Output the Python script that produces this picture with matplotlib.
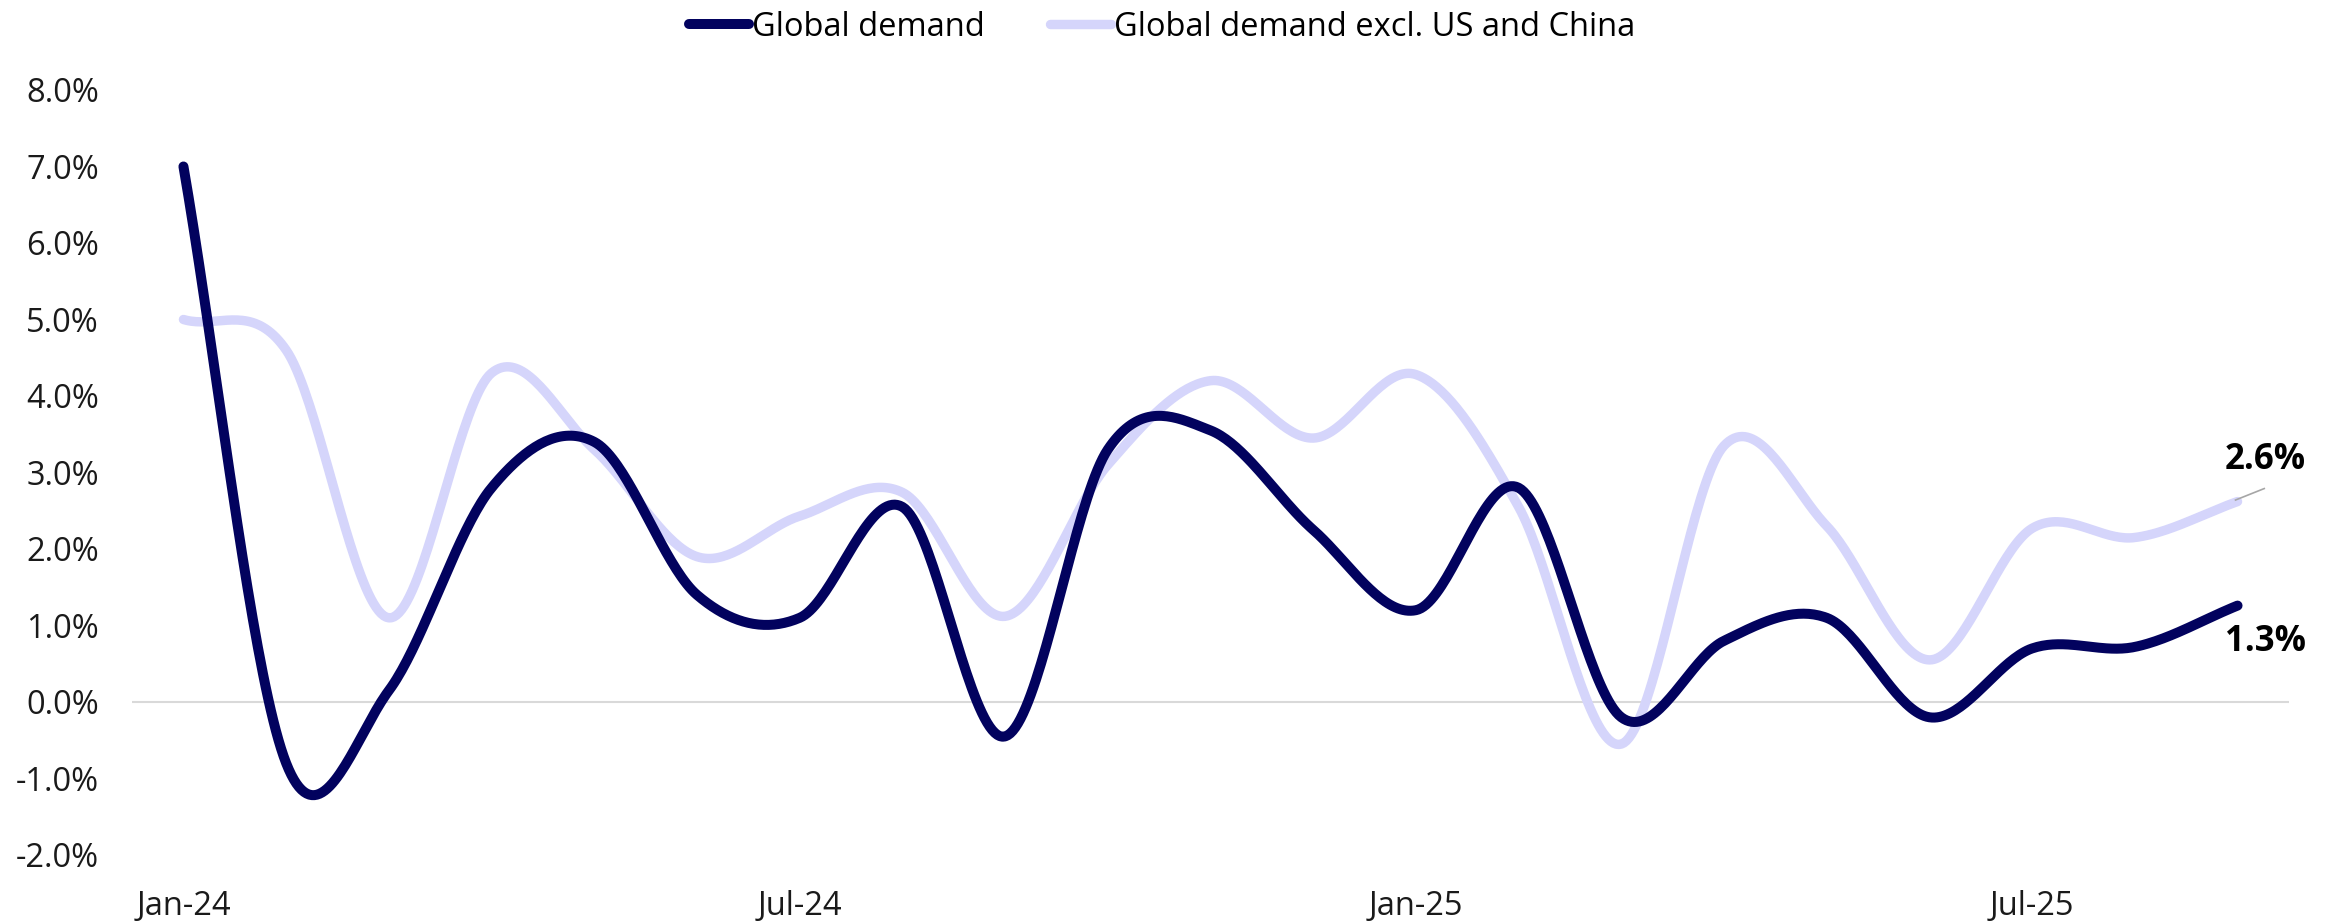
import numpy as np
import matplotlib.pyplot as plt

# data (monthly, % y/y)
months = ["Jan-24", "Feb-24", "Mar-24", "Apr-24", "May-24", "Jun-24", "Jul-24",
          "Aug-24", "Sep-24", "Oct-24", "Nov-24", "Dec-24", "Jan-25", "Feb-25",
          "Mar-25", "Apr-25", "May-25", "Jun-25", "Jul-25", "Aug-25", "Sep-25"]
global_demand = [7.0, -0.8, 0.15, 2.8, 3.4, 1.4, 1.1, 2.55, -0.45, 3.3, 3.55,
                 2.25, 1.2, 2.8, -0.2, 0.8, 1.1, -0.2, 0.7, 0.72, 1.26]
excl_us_china = [5.0, 4.6, 1.1, 4.3, 3.3, 1.9, 2.43, 2.74, 1.12, 3.1, 4.2,
                 3.45, 4.28, 2.55, -0.55, 3.35, 2.3, 0.55, 2.27, 2.15, 2.62]
tick_idx = [0, 6, 12, 18]

DARK = "#02025e"
LIGHT = "#d5d5fb"
FONT = ["Open Sans", "DejaVu Sans"]


def smooth(y, n=40):
    # catmull-rom style smoothing, like excel's smoothed line
    y = np.asarray(y, dtype=float)
    m = np.zeros_like(y)
    m[1:-1] = (y[2:] - y[:-2]) / 2
    m[0] = y[1] - y[0]
    m[-1] = y[-1] - y[-2]
    xs, ys = [], []
    for i in range(len(y) - 1):
        t = np.linspace(0, 1, n, endpoint=False)
        h00 = 2 * t**3 - 3 * t**2 + 1
        h10 = t**3 - 2 * t**2 + t
        h01 = -2 * t**3 + 3 * t**2
        h11 = t**3 - t**2
        xs.append(i + t)
        ys.append(h00 * y[i] + h10 * m[i] + h01 * y[i + 1] + h11 * m[i + 1])
    xs.append([len(y) - 1])
    ys.append([y[-1]])
    return np.concatenate(xs), np.concatenate(ys)


plt.rcParams["font.family"] = FONT

fig = plt.figure(figsize=(23.38, 9.24), dpi=100)
ax = fig.add_axes([0.0565, 0.0747, 0.9225, 0.8279])

x1, y1 = smooth(global_demand)
x2, y2 = smooth(excl_us_china)
ax.plot(x2, y2, color=LIGHT, lw=6.8, solid_capstyle="round",
        label="Global demand excl. US and China", zorder=3)
ax.plot(x1, y1, color=DARK, lw=7.2, solid_capstyle="round",
        label="Global demand", zorder=4)

ax.axhline(0, color="#d9d9d9", lw=1.5, zorder=1)

ax.set_xlim(-0.5, len(months) - 0.5)
ax.set_ylim(-2, 8)
ax.set_yticks(np.arange(-2, 9, 1))
ax.set_yticklabels([f"{v:.1f}%" for v in np.arange(-2, 9, 1)])
ax.set_xticks(tick_idx)
ax.set_xticklabels([months[i] for i in tick_idx])
ax.tick_params(length=0, labelsize=23.5, colors="#1a1a1a")
ax.tick_params(axis="y", pad=24)
ax.tick_params(axis="x", pad=25)
for s in ax.spines.values():
    s.set_visible(False)

# end labels
last = len(months) - 1
ax.text(last + 0.27, excl_us_china[-1] + 0.54, f"{excl_us_china[-1]:.1f}%",
        ha="center", va="center", fontsize=25, fontweight="bold")
ax.plot([last - 0.02, last + 0.26], [excl_us_china[-1] + 0.02, excl_us_china[-1] + 0.17],
        color="#a6a6a6", lw=1.2, zorder=5)
ax.text(last + 0.27, global_demand[-1] - 0.47, f"{global_demand[-1]:.1f}%",
        ha="center", va="center", fontsize=25, fontweight="bold")

h, l = ax.get_legend_handles_labels()
fig.legend(h[::-1], l[::-1], loc="upper center", bbox_to_anchor=(0.497, 1.02),
           ncol=2, frameon=False, fontsize=23.5, handlelength=1.85,
           handletextpad=0.1, columnspacing=2.0)

fig.savefig("out.png", dpi=100)
